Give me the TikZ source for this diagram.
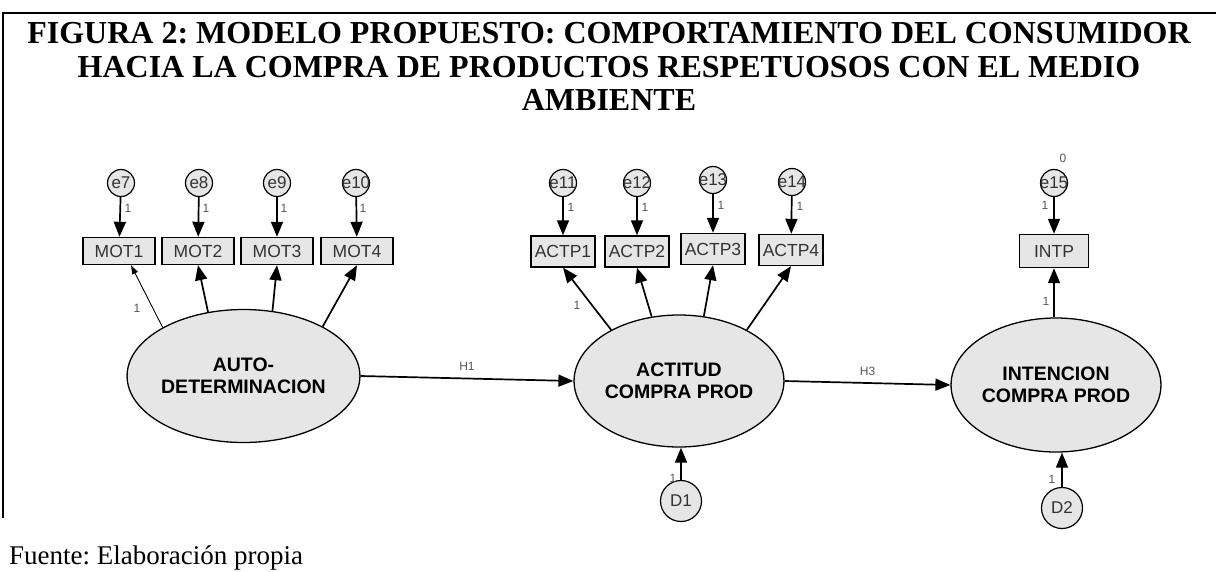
\documentclass[tikz,border=0pt]{standalone}
\usepackage{fontspec}
\setmainfont{Liberation Serif}
\setsansfont{Liberation Sans}
\usetikzlibrary{shapes.geometric,arrows.meta,calc}
\definecolor{fillg}{HTML}{E6E6E6}
\definecolor{txtg}{HTML}{333333}
\definecolor{lblg}{HTML}{555555}
\frenchspacing
\begin{document}
\begin{tikzpicture}[x=1pt,y=-1pt,
  errnode/.style={circle,draw,line width=1.2pt,fill=fillg,minimum size=27pt,inner sep=0pt,
    font=\fontsize{17}{18}\sffamily,text=txtg},
  distnode/.style={circle,draw,line width=1.2pt,fill=fillg,minimum size=41pt,inner sep=0pt,
    font=\fontsize{17}{18}\sffamily,text=txtg},
  obsnode/.style={rectangle,draw,line width=1.4pt,fill=fillg,inner sep=0pt,
    font=\fontsize{17.5}{18}\sffamily,text=txtg},
  latnode/.style={ellipse,draw,line width=1.3pt,fill=fillg,inner sep=0pt,align=center,
    font=\fontsize{19.5}{22}\sffamily\bfseries,text=black},
  arr/.style={-{Triangle[length=15pt,width=12pt]},line width=1.7pt},
  thinarr/.style={-{Triangle[length=9pt,width=6pt]},line width=0.9pt},
  lbl/.style={inner sep=0pt,font=\fontsize{12}{13}\sffamily,text=lblg},
  frameline/.style={line width=2pt}
]
\useasboundingbox (0,0) rectangle (1216,571);

% frame
\coordinate (fTL) at (3,13);
\coordinate (fTR) at (1216,13);
\coordinate (fBL) at (3,518);
\draw[frameline] (fTR) -- (fTL) -- (fBL);

% title
\node[anchor=north,inner sep=0pt,align=center,
  font=\fontsize{32}{33.5}\selectfont\bfseries] (title) at (609,22.5)
  {FIGURA 2: MODELO PROPUESTO: COMPORTAMIENTO DEL CONSUMIDOR\\
   HACIA LA COMPRA DE PRODUCTOS RESPETUOSOS CON EL MEDIO\\
   AMBIENTE};

% source
\node[anchor=base west,inner sep=0pt,font=\fontsize{27}{30}\selectfont] (src) at (9,564.5)
  {Fuente: Elaboración propia};

% latent variables
\node[latnode,minimum width=181pt,minimum height=133pt] (auto) at (243.5,376) {AUTO-\\DETERMINACION};
\node[latnode,minimum width=182pt,minimum height=132pt] (act) at (679,381) {ACTITUD\\COMPRA PROD};
\node[latnode,minimum width=180pt,minimum height=134pt] (int) at (1056,385) {INTENCION\\COMPRA PROD};

% observed
\node[obsnode,minimum width=72pt,minimum height=27pt] (m1) at (119,251) {MOT1};
\node[obsnode,minimum width=72pt,minimum height=27pt] (m2) at (198,251) {MOT2};
\node[obsnode,minimum width=72pt,minimum height=27pt] (m3) at (277,251) {MOT3};
\node[obsnode,minimum width=72pt,minimum height=27pt] (m4) at (357,251) {MOT4};
\node[obsnode,minimum width=64pt,minimum height=31pt] (a1) at (563,251.5) {ACTP1};
\node[obsnode,minimum width=64pt,minimum height=31pt] (a2) at (637,251.5) {ACTP2};
\node[obsnode,minimum width=64pt,minimum height=31pt] (a3) at (713,249) {ACTP3};
\node[obsnode,minimum width=64pt,minimum height=31pt] (a4) at (791,250) {ACTP4};
\node[obsnode,minimum width=69pt,minimum height=33pt] (intp) at (1054,251) {INTP};

% errors
\node[errnode] (e7) at (121,183) {\makebox[0pt]{e7}};
\node[errnode] (e8) at (199,183) {\makebox[0pt]{e8}};
\node[errnode] (e9) at (277,183) {\makebox[0pt]{e9}};
\node[errnode] (e10) at (356,183) {\makebox[0pt]{e10}};
\node[errnode] (e11) at (563,183) {\makebox[0pt]{e11}};
\node[errnode] (e12) at (637,183) {\makebox[0pt]{e12}};
\node[errnode] (e13) at (713,180) {\makebox[0pt]{e13}};
\node[errnode] (e14) at (792,182) {\makebox[0pt]{e14}};
\node[errnode] (e15) at (1054,183) {\makebox[0pt]{e15}};

% disturbances
\node[distnode] (d1) at (681,501) {D1};
\node[distnode] (d2) at (1062,508) {D2};

% error arrows
\draw[arr] (e7) -- (m1);
\draw[arr] (e8) -- (m2);
\draw[arr] (e9) -- (m3);
\draw[arr] (e10) -- (m4);
\draw[arr] (e11) -- (a1);
\draw[arr] (e12) -- (a2);
\draw[arr] (e13) -- (a3);
\draw[arr] (e14) -- (a4);
\draw[arr] (e15) -- (intp);

% loadings
\draw[thinarr] (auto.149) -- ($(m1.south)+(12,0)$);
\draw[arr] (auto.119) -- (m2.south);
\draw[arr] (auto.66) -- (m3.south);
\draw[arr] (auto.32) -- (m4.south);
\draw[arr] (act.143) -- (a1.south);
\draw[arr] (act.113) -- (a2.south);
\draw[arr] (act.69) -- (a3.south);
\draw[arr] (act.37) -- (a4.south);
\draw[arr] (int.north -| intp.south) -- (intp.south);

% structural paths
\draw[arr] (auto.east) -- node[lbl,pos=0.5,above=7pt] (h1) {H1} (act.west);
\draw[arr] (act.east) -- node[lbl,pos=0.5,above=7pt] (h3) {H3} (int.west);
\draw[arr] (d1.north) -- (d1.north |- act.south);
\draw[arr] (d2.north) -- (d2.north |- int.south);

% labels
\node[lbl] (l7) at (128,208) {1};
\node[lbl] (l8) at (206,208) {1};
\node[lbl] (l9) at (284,208) {1};
\node[lbl] (l10) at (363,208) {1};
\node[lbl] (l11) at (571,207) {1};
\node[lbl] (l12) at (645,207) {1};
\node[lbl] (l13) at (721,205) {1};
\node[lbl] (l14) at (800,206) {1};
\node[lbl] (l15) at (1045,205) {1};
\node[lbl] (l0) at (1063,158) {0};
\node[lbl] (lm1) at (137,308) {1};
\node[lbl] (la1) at (577,305) {1};
\node[lbl] (lint) at (1046,301) {1};
\node[lbl] (ld1) at (673,478) {1};
\node[lbl] (ld2) at (1052,479) {1};
\end{tikzpicture}
\end{document}
